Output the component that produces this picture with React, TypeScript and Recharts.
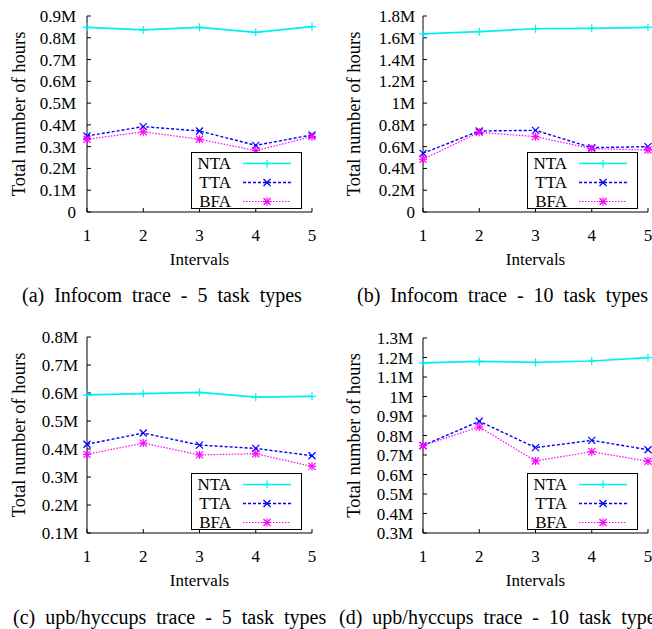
import React from "react";
import { LineChart, Line, XAxis, YAxis, Label } from "recharts";

// x positions shared by all four panels
const intervals = [1, 2, 3, 4, 5];

// (a) Infocom trace - 5 task types (values in millions of hours)
const ntaA = [0.848, 0.836, 0.848, 0.825, 0.851];
const ttaA = [0.349, 0.392, 0.372, 0.306, 0.354];
const bfaA = [0.334, 0.368, 0.334, 0.282, 0.346];
const ticksA = [0, 0.1, 0.2, 0.3, 0.4, 0.5, 0.6, 0.7, 0.8, 0.9];

// (b) Infocom trace - 10 task types
const ntaB = [1.635, 1.656, 1.683, 1.687, 1.696];
const ttaB = [0.539, 0.744, 0.75, 0.591, 0.6];
const bfaB = [0.484, 0.732, 0.692, 0.582, 0.569];
const ticksB = [0, 0.2, 0.4, 0.6, 0.8, 1, 1.2, 1.4, 1.6, 1.8];

// (c) upb/hyccups trace - 5 task types
const ntaC = [0.593, 0.598, 0.602, 0.585, 0.588];
const ttaC = [0.417, 0.457, 0.414, 0.402, 0.376];
const bfaC = [0.381, 0.421, 0.379, 0.383, 0.338];
const ticksC = [0.1, 0.2, 0.3, 0.4, 0.5, 0.6, 0.7, 0.8];

// (d) upb/hyccups trace - 10 task types
const ntaD = [1.172, 1.18, 1.175, 1.182, 1.199];
const ttaD = [0.748, 0.873, 0.738, 0.775, 0.727];
const bfaD = [0.748, 0.844, 0.669, 0.717, 0.668];
const ticksD = [0.3, 0.4, 0.5, 0.6, 0.7, 0.8, 0.9, 1, 1.1, 1.2, 1.3];

const seriesNames = ["NTA", "TTA", "BFA"];

const FONT = "'Liberation Serif', 'Times New Roman', serif";
const CYAN = "#00f0f0";
const BLUE = "#0000ff";
const MAGENTA = "#ff00ff";

const fmtM = (v: number) => (v === 0 ? "0" : `${v}M`);

// gnuplot-like point markers
const Plus = ({ cx, cy, color }: any) => (
    <g stroke={color} strokeWidth={1.2}>
        <line x1={cx - 4} y1={cy} x2={cx + 4} y2={cy} />
        <line x1={cx} y1={cy - 4} x2={cx} y2={cy + 4} />
    </g>
);
const Cross = ({ cx, cy, color }: any) => (
    <g stroke={color} strokeWidth={1.2}>
        <line x1={cx - 3.5} y1={cy - 3.5} x2={cx + 3.5} y2={cy + 3.5} />
        <line x1={cx - 3.5} y1={cy + 3.5} x2={cx + 3.5} y2={cy - 3.5} />
    </g>
);
const Star = ({ cx, cy, color }: any) => (
    <g stroke={color} strokeWidth={1.2}>
        <line x1={cx - 4} y1={cy} x2={cx + 4} y2={cy} />
        <line x1={cx} y1={cy - 4} x2={cx} y2={cy + 4} />
        <line x1={cx - 3.5} y1={cy - 3.5} x2={cx + 3.5} y2={cy + 3.5} />
        <line x1={cx - 3.5} y1={cy + 3.5} x2={cx + 3.5} y2={cy - 3.5} />
    </g>
);

const styles = [
    { color: CYAN, dash: undefined, width: 1.7, Marker: Plus },
    { color: BLUE, dash: "3 2", width: 1.4, Marker: Cross },
    { color: MAGENTA, dash: "1.5 1.5", width: 1.2, Marker: Star }
];

interface PanelProps {
    left: number;
    top: number;
    plotLeft: number;
    plotTop: number;
    plotRight: number;
    plotBottom: number;
    ticks: number[];
    nta: number[];
    tta: number[];
    bfa: number[];
    tickGap: number;
    titleX: number;
    caption: string;
    captionLeft: number;
    captionTop: number;
}

const Panel: React.FC<PanelProps> = (p) => {
    const data = intervals.map((x, i) => ({ x, nta: p.nta[i], tta: p.tta[i], bfa: p.bfa[i] }));
    const domain = [p.ticks[0], p.ticks[p.ticks.length - 1]];
    const W = 326;
    const keys = ["nta", "tta", "bfa"];
    const tickStyle = { fill: "#000", fontSize: 17, fontFamily: FONT };

    // legend box sits in the lower right of the plot
    const boxRight = p.plotRight - 10;
    const boxBottom = p.plotBottom - 3;

    return (
        <div style={{ position: "absolute", left: p.left, top: p.top, width: W }}>
            <LineChart
                width={W}
                height={p.plotBottom + 60}
                data={data}
                margin={{ top: p.plotTop, right: W - p.plotRight, left: 0, bottom: 0 }}
            >
                <XAxis
                    xAxisId="b"
                    dataKey="x"
                    type="number"
                    domain={[1, 5]}
                    ticks={intervals}
                    interval={0}
                    height={60}
                    tickSize={-4}
                    tickMargin={21}
                    axisLine={{ stroke: "#000" }}
                    tickLine={{ stroke: "#000" }}
                    tick={tickStyle}
                >
                    <Label
                        value="Intervals"
                        position="insideBottom"
                        offset={7}
                        style={{ fill: "#000", fontSize: 17, fontFamily: FONT }}
                    />
                </XAxis>
                <XAxis
                    xAxisId="t"
                    orientation="top"
                    type="number"
                    domain={[1, 5]}
                    ticks={intervals}
                    interval={0}
                    height={0}
                    tickSize={-4}
                    tick={false}
                    axisLine={{ stroke: "#000" }}
                    tickLine={{ stroke: "#000" }}
                />
                <YAxis
                    yAxisId="l"
                    type="number"
                    domain={domain}
                    ticks={p.ticks}
                    interval={0}
                    width={p.plotLeft}
                    tickSize={-4}
                    tickMargin={4 + p.tickGap}
                    tickFormatter={fmtM}
                    axisLine={{ stroke: "#000" }}
                    tickLine={{ stroke: "#000" }}
                    tick={tickStyle}
                >
                    <Label
                        value="Total number of hours"
                        angle={-90}
                        position="insideLeft"
                        offset={p.titleX}
                        style={{ fill: "#000", fontSize: 18.5, fontFamily: FONT, textAnchor: "middle" }}
                    />
                </YAxis>
                <YAxis
                    yAxisId="r"
                    orientation="right"
                    type="number"
                    domain={domain}
                    ticks={p.ticks}
                    interval={0}
                    width={0}
                    tickSize={-4}
                    tick={false}
                    axisLine={{ stroke: "#000" }}
                    tickLine={{ stroke: "#000" }}
                />
                {keys.map((k, i) => {
                    const s = styles[i];
                    return (
                        <Line
                            key={k}
                            xAxisId="b"
                            yAxisId="l"
                            dataKey={k}
                            type="linear"
                            stroke={s.color}
                            strokeWidth={s.width}
                            strokeDasharray={s.dash}
                            isAnimationActive={false}
                            dot={(d: any) => <s.Marker key={`${k}-${d.index}`} cx={d.cx} cy={d.cy} color={s.color} />}
                            activeDot={false}
                        />
                    );
                })}
            </LineChart>

            {/* legend */}
            <div
                style={{
                    position: "absolute",
                    left: boxRight - 111,
                    top: boxBottom - 57,
                    width: 111,
                    height: 57,
                    boxSizing: "border-box",
                    border: "1px solid #000",
                    background: "#fff"
                }}
            >
                {seriesNames.map((name, i) => {
                    const s = styles[i];
                    return (
                        <div
                            key={name}
                            style={{
                                position: "absolute",
                                left: 0,
                                top: 0.5 + i * 19.3,
                                height: 19,
                                width: 111,
                                display: "flex",
                                alignItems: "center"
                            }}
                        >
                            <span
                                style={{
                                    width: 39,
                                    textAlign: "right",
                                    fontFamily: FONT,
                                    fontSize: 17,
                                    lineHeight: "19px"
                                }}
                            >
                                {name}
                            </span>
                            <svg width={60} height={19} style={{ marginLeft: 12 }}>
                                <line
                                    x1={0}
                                    y1={9.5}
                                    x2={48}
                                    y2={9.5}
                                    stroke={s.color}
                                    strokeWidth={s.width}
                                    strokeDasharray={s.dash}
                                />
                                <s.Marker cx={24} cy={9.5} color={s.color} />
                            </svg>
                        </div>
                    );
                })}
            </div>

            {/* caption */}
            <div
                style={{
                    position: "absolute",
                    left: p.captionLeft,
                    top: p.captionTop,
                    whiteSpace: "nowrap",
                    fontFamily: FONT,
                    fontSize: 20,
                    lineHeight: "22px",
                    wordSpacing: 5
                }}
            >
                {p.caption}
            </div>
        </div>
    );
}

export default function App() {
    return (
        <div
            style={{
                position: "absolute",
                left: 0,
                top: 0,
                width: 652,
                height: 629,
                overflow: "hidden",
                background: "#fff"
            }}
        >
            <Panel
                left={0}
                top={0}
                plotLeft={87}
                plotTop={16}
                plotRight={312}
                plotBottom={212}
                ticks={ticksA}
                nta={ntaA}
                tta={ttaA}
                bfa={bfaA}
                tickGap={11}
                titleX={18}
                caption="(a) Infocom trace - 5 task types"
                captionLeft={22}
                captionTop={284}
            />
            <Panel
                left={326}
                top={0}
                plotLeft={97}
                plotTop={16}
                plotRight={322}
                plotBottom={212}
                ticks={ticksB}
                nta={ntaB}
                tta={ttaB}
                bfa={bfaB}
                tickGap={8}
                titleX={27}
                caption="(b) Infocom trace - 10 task types"
                captionLeft={31}
                captionTop={284}
            />
            <Panel
                left={0}
                top={320}
                plotLeft={87}
                plotTop={17}
                plotRight={312}
                plotBottom={213}
                ticks={ticksC}
                nta={ntaC}
                tta={ttaC}
                bfa={bfaC}
                tickGap={9}
                titleX={18}
                caption="(c) upb/hyccups trace - 5 task types"
                captionLeft={13}
                captionTop={286}
            />
            <Panel
                left={326}
                top={320}
                plotLeft={97}
                plotTop={18}
                plotRight={322}
                plotBottom={213}
                ticks={ticksD}
                nta={ntaD}
                tta={ttaD}
                bfa={bfaD}
                tickGap={10}
                titleX={27}
                caption="(d) upb/hyccups trace - 10 task types"
                captionLeft={13}
                captionTop={286}
            />
        </div>
    );
}
